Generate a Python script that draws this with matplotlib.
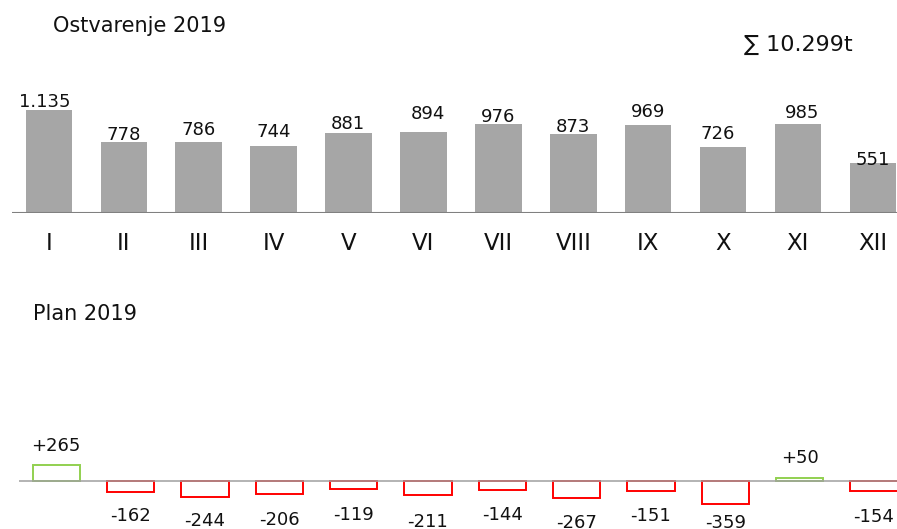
import matplotlib
matplotlib.use("Agg")
import matplotlib.pyplot as plt
import matplotlib.transforms as mtransforms

plt.rcParams['font.family'] = ['DejaVu Sans']

# ---- data ----
months = ["I", "II", "III", "IV", "V", "VI", "VII", "VIII", "IX", "X", "XI", "XII"]
actual = [1135, 778, 786, 744, 881, 894, 976, 873, 969, 726, 985, 551]
vs_plan = [265, -162, -244, -206, -119, -211, -144, -267, -151, -359, 50, -154]
title_top = "Ostvarenje 2019"
title_bottom = "Plan 2019"
total_label = "∑ 10.299t"

# label nudges (pixels), layout only
top_dx = [-4, 0, 0, 0, -1, 4, 0, 0, 0, -5, 4, 0]
top_dy = [3, 2.5, 7, 9, 4.5, 12.5, 2.5, 1.5, 8, 8.5, 6, -1.5]
bot_dy = [14, 15, 15, 17, 17, 18, 16, 16, 16, 10, 15, 17]

W, H = 897, 529
fig = plt.figure(figsize=(W / 100, H / 100), dpi=100)

def fx(px):
    return px / W

def fy(py):
    return 1 - py / H

def fmt_thousands(v):
    return f"{v:,}".replace(",", ".")

n = len(months)
xs = list(range(n))

# ---- top panel ----
top_left, top_step, top_base, top_scale, top_h = 11.5, 74.9, 213.3, 0.0911, 160
ax1 = fig.add_axes([fx(top_left), fy(top_base), fx(top_step * n), top_h / H])
ax1.bar(xs, actual, width=0.622, color="#a6a6a6", zorder=2)
ax1.axhline(0, color="#808080", linewidth=1.5, zorder=3)
ax1.set_xlim(-0.5, n - 0.5)
ax1.set_ylim(0, top_h / top_scale)
ax1.axis("off")
for i, v in enumerate(actual):
    ax1.annotate(fmt_thousands(v), xy=(i, v), xytext=(top_dx[i], top_dy[i]),
                 textcoords="offset pixels", ha="center", va="baseline",
                 fontsize=13, color="#111111")
tr1 = mtransforms.blended_transform_factory(ax1.transData, fig.transFigure)
for i, m in enumerate(months):
    ax1.text(i, fy(250), m, transform=tr1, ha="center", va="baseline",
             fontsize=16.5, color="#111111", clip_on=False)

fig.text(fx(52.5), fy(31.5), title_top, fontsize=15, color="#111111", va="baseline")
fig.text(fx(744), fy(51), total_label, fontsize=16, color="#111111", va="baseline")

# ---- bottom panel ----
bot_left, bot_step, bot_base, bot_scale, bot_top = 19.1, 74.33, 481.3, 0.063, 400
ax2 = fig.add_axes([fx(bot_left), 0, fx(bot_step * n), (H - bot_top) / H])
colors = ["#92d050" if v > 0 else "#ff0000" for v in vs_plan]
ax2.bar(xs, vs_plan, width=0.636, facecolor="none", edgecolor=colors,
        linewidth=1.4, zorder=2)
ax2.axhline(0, color="#a0a0a0", linewidth=1.3, alpha=0.85, zorder=3)
ax2.set_xlim(-0.5, n - 0.5)
ax2.set_ylim(-(H - bot_base) / bot_scale, (bot_base - bot_top) / bot_scale)
ax2.axis("off")
for i, v in enumerate(vs_plan):
    if v > 0:
        ax2.annotate(f"+{v}", xy=(i, v), xytext=(0, bot_dy[i]),
                     textcoords="offset pixels", ha="center", va="baseline",
                     fontsize=13, color="#111111", annotation_clip=False)
    else:
        ax2.annotate(f"-{abs(v)}", xy=(i, v), xytext=(0, -bot_dy[i]),
                     textcoords="offset pixels", ha="center", va="top",
                     fontsize=13, color="#111111", annotation_clip=False)

fig.text(fx(33), fy(319.5), title_bottom, fontsize=15, color="#111111", va="baseline")

fig.savefig("out.png", dpi=100)
